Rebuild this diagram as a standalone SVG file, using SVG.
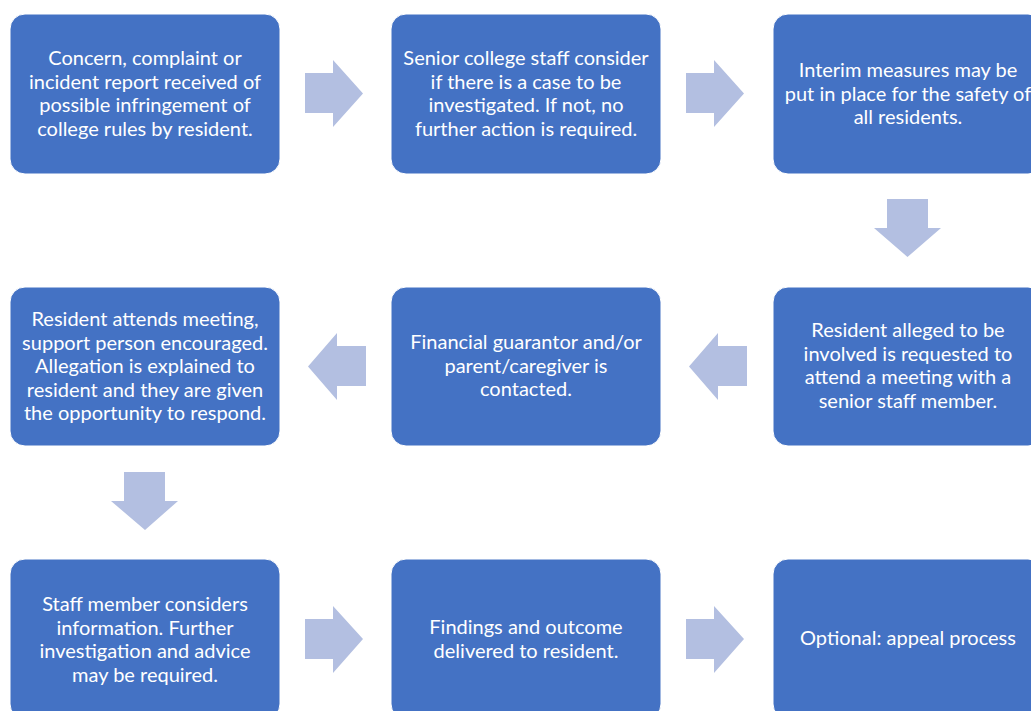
<svg xmlns="http://www.w3.org/2000/svg" width="1031" height="711" viewBox="0 0 1031 711">
<style>
.box{fill:#4472C4;stroke:#FFFFFF;stroke-width:1}
.arr{fill:#B3BFE1}
text{font-family:Lato,"Open Sans","Liberation Sans",sans-serif;font-size:20px;fill:#FFFFFF;text-anchor:middle}
</style>
<rect width="1031" height="711" fill="#FFFFFF"/>
<g id="connectors">
<polygon class="arr" points="305,73 333,73 333,60 363,93.5 333,127 333,113 305,113"/>
<polygon class="arr" points="686,73 714,73 714,60 744,93.5 714,127 714,113 686,113"/>
<polygon class="arr" points="887,199 928,199 928,228 941,228 907.5,257 874,228 887,228"/>
<polygon class="arr" points="747,346 718,346 718,333 689,366.5 718,400 718,386 747,386"/>
<polygon class="arr" points="366,346 337,346 337,333 308,366.5 337,400 337,386 366,386"/>
<polygon class="arr" points="124,472 165,472 165,501 178,501 145,530 111,501 124,501"/>
<polygon class="arr" points="305,619 333,619 333,606 363,639 333,673 333,659 305,659"/>
<polygon class="arr" points="686,619 714,619 714,606 744,639 714,673 714,659 686,659"/>
</g>
<g id="n1"><rect class="box" x="10" y="14" width="270" height="160" rx="15"/>
<text x="145" y="65">Concern, complaint or</text><text x="145" y="88.5">incident report received of</text><text x="145" y="112">possible infringement of</text><text x="145" y="135.5">college rules by resident.</text></g>
<g id="n2"><rect class="box" x="391" y="14" width="270" height="160" rx="15"/>
<text x="526" y="65">Senior college staff consider</text><text x="526" y="88.5">if there is a case to be</text><text x="526" y="112">investigated. If not, no</text><text x="526" y="135.5">further action is required.</text></g>
<g id="n3"><rect class="box" x="773" y="14" width="270" height="160" rx="15"/>
<text x="908" y="77">Interim measures may be</text><text x="908" y="100.5">put in place for the safety of</text><text x="908" y="124">all residents.</text></g>
<g id="n4"><rect class="box" x="10" y="287" width="270" height="159" rx="15"/>
<text x="145" y="326">Resident attends meeting,</text><text x="145" y="349.5">support person encouraged.</text><text x="145" y="373">Allegation is explained to</text><text x="145" y="396.5">resident and they are given</text><text x="145" y="420">the opportunity to respond.</text></g>
<g id="n5"><rect class="box" x="391" y="287" width="270" height="159" rx="15"/>
<text x="526" y="349">Financial guarantor and/or</text><text x="526" y="372.5">parent/caregiver is</text><text x="526" y="396">contacted.</text></g>
<g id="n6"><rect class="box" x="773" y="287" width="270" height="159" rx="15"/>
<text x="908" y="337">Resident alleged to be</text><text x="908" y="360.5">involved is requested to</text><text x="908" y="384">attend a meeting with a</text><text x="908" y="407.5">senior staff member.</text></g>
<g id="n7"><rect class="box" x="10" y="559" width="270" height="160" rx="15"/>
<text x="145" y="611">Staff member considers</text><text x="145" y="634.5">information. Further</text><text x="145" y="658">investigation and advice</text><text x="145" y="681.5">may be required.</text></g>
<g id="n8"><rect class="box" x="391" y="559" width="270" height="160" rx="15"/>
<text x="526" y="634">Findings and outcome</text><text x="526" y="657.5">delivered to resident.</text></g>
<g id="n9"><rect class="box" x="773" y="559" width="270" height="160" rx="15"/>
<text x="908" y="645">Optional: appeal process</text></g>
</svg>
